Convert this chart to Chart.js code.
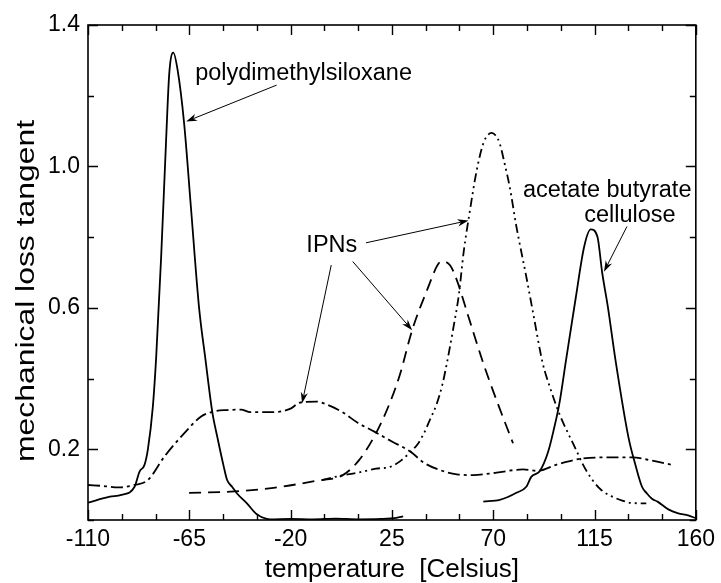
<!DOCTYPE html>
<html><head><meta charset="utf-8">
<script src="https://cdn.jsdelivr.net/npm/chart.js@4.4.0/dist/chart.umd.min.js"></script>
<style>html,body{margin:0;padding:0;background:#fff}#wrap{width:721px;height:583px}</style>
</head><body><div id="wrap"><canvas id="c" width="721" height="583"></canvas></div>
<script>
// ---- data (temperature in Celsius, mechanical loss tangent) ----
const pdmsT   = [-110,-100.3,-95.2,-89.3,-87.1,-84.9,-83.4,-81.2,-79.7,-77.5,-75.3,-73.9,-72.1,-70.2,-67.3,-64.3,-60.7,-57.8,-54.8,-52.6,-49.7,-48.2,-46,-43.8,-39.4,-35,-29.1,-20,-10,0,10,20,27,30];
const pdmsTan = [0.049,0.066,0.071,0.094,0.137,0.156,0.200,0.32,0.462,0.745,1.075,1.263,1.322,1.273,1.122,0.886,0.603,0.453,0.306,0.236,0.151,0.113,0.094,0.075,0.047,0.016,0.002,0.003,0.002,0.004,0.002,0.003,0.006,0.010];

const ipnAT   = [-110,-103,-96.6,-89.3,-83.4,-76.1,-67.3,-59.9,-54.8,-48.2,-42,-37.9,-27.6,-20,-15.9,-8.6,-3.4,3,9.8,17.2,25,33.3,39.2,46.5,53.8,61.2,71.5,83.2,89.8,97.9,103,109.6,121.4,131.7,140.5,149.3];
const ipnATan = [0.099,0.096,0.092,0.099,0.113,0.179,0.245,0.292,0.306,0.311,0.312,0.305,0.305,0.315,0.332,0.335,0.325,0.305,0.275,0.25,0.222,0.193,0.162,0.141,0.129,0.127,0.134,0.143,0.139,0.156,0.165,0.174,0.177,0.177,0.168,0.156];

const ipnBT   = [-65.1,-46.7,-27.6,-8.6,3.2,10.5,17.9,24,28.5,34,40.6,45.8,47.5,50.9,53.8,59,65.6,72,78.8];
const ipnBTan = [0.077,0.080,0.091,0.111,0.127,0.170,0.245,0.330,0.410,0.537,0.650,0.726,0.731,0.720,0.679,0.575,0.443,0.330,0.217];

const ipnCT   = [-6,2,9.8,17.9,24.5,29,33.3,36.5,39.2,42,45,47.5,49.4,52.4,54.8,56.8,59.7,62.7,65.6,67.5,69.3,71,72.9,75,77.3,80.3,84.7,87.6,92,95.5,99.4,106.7,110,114.1,118,122.9,127.3,131.7,138];
const ipnCTan = [0.113,0.125,0.134,0.145,0.151,0.168,0.193,0.215,0.245,0.285,0.330,0.385,0.443,0.547,0.640,0.754,0.877,0.990,1.065,1.088,1.095,1.088,1.065,1.010,0.943,0.830,0.688,0.590,0.443,0.370,0.300,0.200,0.155,0.113,0.085,0.066,0.055,0.048,0.047];

const cabT    = [65.6,72.9,76.5,80.3,84.7,86.9,90.5,92.5,94.5,96.7,99.4,102.3,106.7,110.4,113.3,116.3,118.4,121,124.3,130.2,133,136.1,138.3,140.5,143,147.8,152.2,156.6,160];
const cabTan  = [0.052,0.057,0.065,0.077,0.094,0.122,0.137,0.160,0.195,0.250,0.330,0.450,0.630,0.773,0.822,0.801,0.700,0.600,0.453,0.230,0.160,0.094,0.075,0.060,0.052,0.030,0.019,0.013,0.005];

const xTickStep = 15, xLabelStep = 45, xMin = -110, xMax = 160;
const yTickStep = 0.2, yMin = 0, yMax = 1.4;
const yLabels = ['0.2','0.6','1.0','1.4'];

// annotation texts (anchor in data units) and arrows (from -> to, data units)
const labelTexts = ['polydimethylsiloxane','IPNs','acetate butyrate','cellulose'];
const labelT     = [-62.4, -13.0, 83.2, 110.4];
const labelTan   = [1.244, 0.759, 0.913, 0.844];
const arrowFromT = [-26.2, 13.5, 7.6, -1.95, 129.4];
const arrowFromV = [1.230, 0.784, 0.731, 0.721, 0.830];
const arrowToT   = [-66.4, 59.0, 34.0, -14.9, 119.2];
const arrowToV   = [1.127, 0.847, 0.537, 0.330, 0.702];

const FONT = '"Liberation Sans", Arial, sans-serif';
const pts = (xs, ys) => xs.map((x, i) => ({x, y: ys[i]}));

const frameAndNotes = {
  id: 'frameAndNotes',
  afterDatasetsDraw(chart) {
    const {ctx, chartArea: a, scales: {x, y}} = chart;
    ctx.save();
    ctx.strokeStyle = '#000';
    ctx.lineWidth = 1.6;
    ctx.strokeRect(a.left, a.top, a.right - a.left, a.bottom - a.top);
    // inward ticks
    ctx.lineWidth = 1.4;
    ctx.beginPath();
    x.ticks.forEach(t => {
      const px = Math.round(x.getPixelForValue(t.value)) + 0.5;
      const len = t.label ? 10 : 6;
      ctx.moveTo(px, a.bottom); ctx.lineTo(px, a.bottom - len);
      ctx.moveTo(px, a.top); ctx.lineTo(px, a.top + len);
    });
    y.ticks.forEach(t => {
      const py = Math.round(y.getPixelForValue(t.value)) + 0.5;
      const len = t.label ? 10 : 6;
      ctx.moveTo(a.left, py); ctx.lineTo(a.left + len, py);
      ctx.moveTo(a.right, py); ctx.lineTo(a.right - len, py);
    });
    ctx.stroke();
    // annotation texts
    ctx.fillStyle = '#000';
    ctx.font = '23.5px ' + FONT;
    ctx.textBaseline = 'alphabetic';
    ctx.textAlign = 'left';
    labelTexts.forEach((s, i) => {
      ctx.fillText(s, x.getPixelForValue(labelT[i]), y.getPixelForValue(labelTan[i]));
    });
    // arrows
    ctx.lineWidth = 1;
    arrowFromT.forEach((_, i) => {
      const x0 = x.getPixelForValue(arrowFromT[i]), y0 = y.getPixelForValue(arrowFromV[i]);
      const x1 = x.getPixelForValue(arrowToT[i]), y1 = y.getPixelForValue(arrowToV[i]);
      const ang = Math.atan2(y1 - y0, x1 - x0);
      const L = 11, W = 3.6;
      const bx = x1 - L * Math.cos(ang), by = y1 - L * Math.sin(ang);
      const nx = -Math.sin(ang) * W, ny = Math.cos(ang) * W;
      const mx = x1 - 0.7 * L * Math.cos(ang), my = y1 - 0.7 * L * Math.sin(ang);
      ctx.beginPath(); ctx.moveTo(x0, y0); ctx.lineTo(mx, my); ctx.stroke();
      ctx.beginPath();
      ctx.moveTo(x1, y1); ctx.lineTo(bx + nx, by + ny); ctx.lineTo(mx, my); ctx.lineTo(bx - nx, by - ny);
      ctx.closePath(); ctx.fill();
    });
    // y axis title (stretched along reading direction as in the original)
    ctx.font = '25px ' + FONT;
    const title = 'mechanical loss tangent';
    const w = ctx.measureText(title).width;
    const sx = 342 / w;
    ctx.translate(34, 291);
    ctx.rotate(-Math.PI / 2);
    ctx.scale(sx, 1);
    ctx.textAlign = 'center';
    ctx.fillText(title, 0, 0);
    ctx.restore();
  }
};

const common = {borderColor: '#000', borderWidth: 1.8, pointRadius: 0, fill: false, cubicInterpolationMode: 'monotone'};

new Chart(document.getElementById('c'), {
  type: 'line',
  data: {
    datasets: [
      Object.assign({label: 'polydimethylsiloxane', data: pts(pdmsT, pdmsTan)}, common),
      Object.assign({label: 'IPN A', data: pts(ipnAT, ipnATan), borderDash: [12, 4, 3, 4]}, common),
      Object.assign({label: 'IPN B', data: pts(ipnBT, ipnBTan), borderDash: [12, 7]}, common),
      Object.assign({label: 'IPN C', data: pts(ipnCT, ipnCTan), borderDash: [9, 4, 2, 4, 2, 4]}, common),
      Object.assign({label: 'acetate butyrate cellulose', data: pts(cabT, cabTan)}, common)
    ]
  },
  options: {
    responsive: false,
    animation: false,
    events: [],
    layout: {padding: {left: 0, right: 20, top: 25, bottom: 0}},
    plugins: {legend: {display: false}, tooltip: {enabled: false}},
    scales: {
      x: {
        type: 'linear', min: xMin, max: xMax,
        grid: {display: false, drawTicks: false},
        border: {display: false},
        ticks: {
          stepSize: xTickStep, autoSkip: false, maxRotation: 0, minRotation: 0, padding: 6,
          color: '#000', font: {family: FONT, size: 23},
          callback: v => (Math.round(v - xMin) % xLabelStep === 0 ? String(Math.round(v)) : '')
        },
        title: {display: true, text: 'temperature  [Celsius]', color: '#000', padding: 0,
                font: {family: FONT, size: 26, lineHeight: 1}},
        afterFit: s => { s.height = 63; }
      },
      y: {
        type: 'linear', min: yMin, max: yMax,
        grid: {display: false, drawTicks: false},
        border: {display: false},
        ticks: {
          stepSize: yTickStep, autoSkip: false, padding: 8,
          color: '#000', font: {family: FONT, size: 23},
          callback: v => { const s = v.toFixed(1); return yLabels.includes(s) ? s : ''; }
        },
        afterFit: s => { s.width = 88; }
      }
    }
  },
  plugins: [frameAndNotes]
});
</script>
</body></html>
